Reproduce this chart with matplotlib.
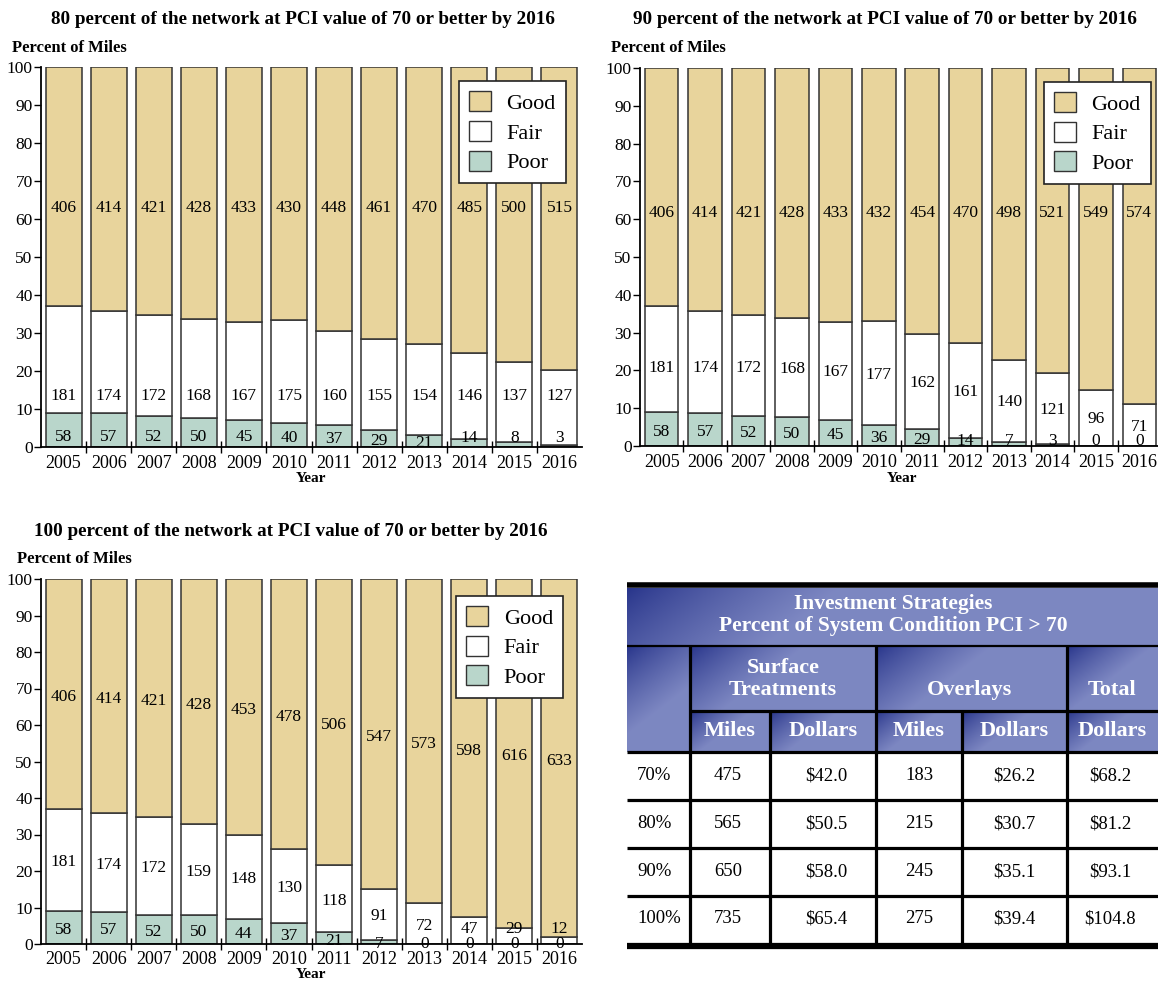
import numpy as np
import matplotlib
matplotlib.use("Agg")
import matplotlib.pyplot as plt
from matplotlib.patches import Patch

plt.rcParams['font.family'] = ['Liberation Serif', 'DejaVu Serif']

# ---------------- data ----------------
years = ['2005', '2006', '2007', '2008', '2009', '2010', '2011', '2012', '2013', '2014', '2015', '2016']

good_80 = [406, 414, 421, 428, 433, 430, 448, 461, 470, 485, 500, 515]
fair_80 = [181, 174, 172, 168, 167, 175, 160, 155, 154, 146, 137, 127]
poor_80 = [58, 57, 52, 50, 45, 40, 37, 29, 21, 14, 8, 3]

good_90 = [406, 414, 421, 428, 433, 432, 454, 470, 498, 521, 549, 574]
fair_90 = [181, 174, 172, 168, 167, 177, 162, 161, 140, 121, 96, 71]
poor_90 = [58, 57, 52, 50, 45, 36, 29, 14, 7, 3, 0, 0]

good_100 = [406, 414, 421, 428, 453, 478, 506, 547, 573, 598, 616, 633]
fair_100 = [181, 174, 172, 159, 148, 130, 118, 91, 72, 47, 29, 12]
poor_100 = [58, 57, 52, 50, 44, 37, 21, 7, 0, 0, 0, 0]

titles = ['80 percent of the network at PCI value of 70 or better by 2016',
          '90 percent of the network at PCI value of 70 or better by 2016',
          '100 percent of the network at PCI value of 70 or better by 2016']
categories = ['Good', 'Fair', 'Poor']

table_rows = ['70%', '80%', '90%', '100%']
surface_miles = [475, 565, 650, 735]
surface_dollars = [42.0, 50.5, 58.0, 65.4]
overlay_miles = [183, 215, 245, 275]
overlay_dollars = [26.2, 30.7, 35.1, 39.4]
total_dollars = [68.2, 81.2, 93.1, 104.8]

# ---------------- style ----------------
C_GOOD = '#E8D49C'
C_FAIR = '#FFFFFF'
C_POOR = '#B9D6CB'
EDGE = '#333333'

W, H = 1158, 981
fig = plt.figure(figsize=(W / 100, H / 100), dpi=100)


def px_axes(x0, x1, ytop, ybot):
    return fig.add_axes([x0 / W, 1 - ybot / H, (x1 - x0) / W, (ybot - ytop) / H])


def draw_chart(ax, good, fair, poor, mode, bw, xpad):
    good = np.array(good, float)
    fair = np.array(fair, float)
    poor = np.array(poor, float)
    tot = good + fair + poor
    gp = good / tot * 100
    fp = fair / tot * 100
    pp = poor / tot * 100
    x = np.arange(len(years))
    ax.bar(x, pp, bw, color=C_POOR, edgecolor=EDGE, linewidth=1.1, zorder=2)
    ax.bar(x, fp, bw, bottom=pp, color=C_FAIR, edgecolor=EDGE, linewidth=1.1, zorder=2)
    ax.bar(x, gp, bw, bottom=pp + fp, color=C_GOOD, edgecolor=EDGE, linewidth=1.1, zorder=2)

    for i in range(len(x)):
        gc = pp[i] + fp[i] + gp[i] / 2
        fc = pp[i] + fp[i] / 2
        pc = pp[i] / 2
        if mode == 1:
            gy, fy = 63.0, 13.5
            py = min(pc - 0.7, 2.6) if pp[i] >= 2.5 else 2.3
        elif mode == 2:
            gy = 61.6
            fy = min(fc - 0.4, 20.6)
            py = min(pc - 0.7, 3.7) if pp[i] >= 2.5 else 1.4
        else:
            gy = gc - 0.8
            fy = max(fc - 0.6, 4.2)
            py = max(min(pc - 0.7, 3.8), 0.1)
        kw = dict(ha='center', va='center', fontsize=12.5, zorder=4)
        ax.text(x[i], gy, str(int(good[i])), **kw)
        ax.text(x[i], fy, str(int(fair[i])), **kw)
        ax.text(x[i], py, str(int(poor[i])), **kw)

    ax.set_xlim(-0.5, 11.5)
    ax.set_ylim(0, 100)
    ax.set_yticks(np.arange(0, 101, 10))
    ax.tick_params(axis='y', direction='out', length=5, width=1, labelsize=12.5, pad=1)
    ax.set_xticks(x)
    ax.set_xticklabels(years)
    ax.tick_params(axis='x', which='major', length=0, labelsize=13, pad=xpad)
    ax.set_xticks(x[:-1] + 0.5, minor=True)
    ax.tick_params(axis='x', which='minor', direction='inout', length=9, width=1)
    for s in ['top', 'right']:
        ax.spines[s].set_visible(False)
    ax.spines['left'].set_linewidth(1.3)
    ax.spines['bottom'].set_linewidth(1.3)
    ax.spines['left'].set_zorder(3)
    ax.spines['bottom'].set_zorder(3)

    handles = [Patch(facecolor=c, edgecolor=EDGE, linewidth=1) for c in (C_GOOD, C_FAIR, C_POOR)]
    return handles


charts = [
    dict(g=good_80, f=fair_80, p=poor_80, box=(41, 582, 67, 447), mode=1, bw=0.8, xpad=6,
         title_xy=(303, 20), pm_xy=(12, 48), year_xy=(311, 478), leg=(0.97, 0.962)),
    dict(g=good_90, f=fair_90, p=poor_90, box=(640, 1161, 68, 446), mode=2, bw=0.77, xpad=6,
         title_xy=(885, 20), pm_xy=(611, 48), year_xy=(902, 478), leg=(0.98, 0.963)),
    dict(g=good_100, f=fair_100, p=poor_100, box=(41, 582, 579, 944), mode=3, bw=0.8, xpad=5,
         title_xy=(291, 532), pm_xy=(17, 559), year_xy=(311, 975), leg=(0.965, 0.953)),
]

for c, title in zip(charts, titles):
    x0, x1, yt, yb = c['box']
    ax = px_axes(x0, x1, yt, yb)
    handles = draw_chart(ax, c['g'], c['f'], c['p'], c['mode'], c['bw'], c['xpad'])
    leg = ax.legend(handles, categories, loc='upper right', bbox_to_anchor=c['leg'],
                    fontsize=16, frameon=True, fancybox=False, edgecolor='#222222',
                    framealpha=1, handlelength=1.0, handleheight=1.0, handletextpad=0.7,
                    labelspacing=0.32, borderpad=0.45, borderaxespad=0)
    leg.get_frame().set_linewidth(1.2)
    leg.set_zorder(5)
    fig.text(c['title_xy'][0] / W, 1 - c['title_xy'][1] / H, title, ha='center', va='center',
             fontsize=13.8, fontweight='bold')
    fig.text(c['pm_xy'][0] / W, 1 - c['pm_xy'][1] / H, 'Percent of Miles', ha='left', va='center',
             fontsize=12, fontweight='bold')
    fig.text(c['year_xy'][0] / W, 1 - c['year_xy'][1] / H, 'Year', ha='center', va='center',
             fontsize=11, fontweight='bold')

# ---------------- table ----------------
tx0, tx1, ty0, ty1 = 627, 1158, 580, 952
axt = fig.add_axes([tx0 / W, 1 - ty1 / H, (tx1 - tx0) / W, (ty1 - ty0) / H])

DARK = np.array([0.15, 0.20, 0.54])
LIGHT = np.array([0.49, 0.53, 0.76])


def grad_cell(x0, x1, y0, y1):
    w = max(int(x1 - x0), 2)
    h = max(int(y1 - y0), 2)
    yy, xx = np.mgrid[0:h, 0:w]
    scale = 0.3 * w + 0.9 * h
    d = (xx + 1.3 * yy) / scale
    t = np.clip(d, 0, 1) ** 0.8
    img = DARK * (1 - t)[..., None] + LIGHT * t[..., None]
    axt.imshow(img, extent=(x0, x1, y1, y0), aspect='auto', zorder=1, interpolation='bilinear')


col_x = [627, 690, 770, 876, 962, 1067, 1158]
grad_cell(627, 1158, 588, 646)
grad_cell(627, 690, 646, 752)
grad_cell(690, 876, 646, 711)
grad_cell(876, 1067, 646, 711)
grad_cell(1067, 1158, 646, 711)
for a, b in zip(col_x[1:-1], col_x[2:]):
    grad_cell(a, b, 711, 752)

axt.set_xlim(tx0, tx1)
axt.set_ylim(ty1, ty0)
axt.axis('off')

lw3 = 2.3
axt.hlines(585.5, 627, 1158, color='black', linewidth=4, zorder=3)
axt.hlines(646, 627, 1158, color='black', linewidth=1.6, zorder=3)
axt.hlines(711, 690, 1158, color='black', linewidth=lw3, zorder=3)
axt.hlines(752, 627, 1158, color='black', linewidth=lw3, zorder=3)
for yy in (800, 848, 896):
    axt.hlines(yy, 627, 1158, color='black', linewidth=lw3, zorder=3)
axt.hlines(946, 627, 1158, color='black', linewidth=4.5, zorder=3)
for xx in (690, 876, 1067):
    axt.vlines(xx, 646, 944, color='black', linewidth=lw3, zorder=3)
for xx in (770, 962):
    axt.vlines(xx, 711, 944, color='black', linewidth=lw3, zorder=3)

white = dict(color='white', fontweight='bold', ha='center', va='center', zorder=4)
axt.text(893, 604, 'Investment Strategies', fontsize=15.5, **white)
axt.text(893, 626, 'Percent of System Condition PCI > 70', fontsize=15.5, **white)
axt.text(783, 679, 'Surface\nTreatments', fontsize=16, linespacing=1.15, **white)
axt.text(969, 690, 'Overlays', fontsize=16, **white)
axt.text(1112, 690, 'Total', fontsize=16, **white)
for xc, lab in zip([730, 823, 919, 1014, 1112], ['Miles', 'Dollars', 'Miles', 'Dollars', 'Dollars']):
    axt.text(xc, 731, lab, fontsize=16, **white)

row_y = [776, 824, 872, 919]
dk = dict(va='center', fontsize=13.5, zorder=4)
for i, yy in enumerate(row_y):
    axt.text(637, yy, table_rows[i], ha='left', **dk)
    axt.text(728, yy, str(surface_miles[i]), ha='center', **dk)
    axt.text(826, yy, f'${surface_dollars[i]:.1f}', ha='center', **dk)
    axt.text(919, yy, str(overlay_miles[i]), ha='center', **dk)
    axt.text(1014, yy, f'${overlay_dollars[i]:.1f}', ha='center', **dk)
    axt.text(1110, yy, f'${total_dollars[i]:.1f}', ha='center', **dk)

fig.savefig('out.png', dpi=100)
